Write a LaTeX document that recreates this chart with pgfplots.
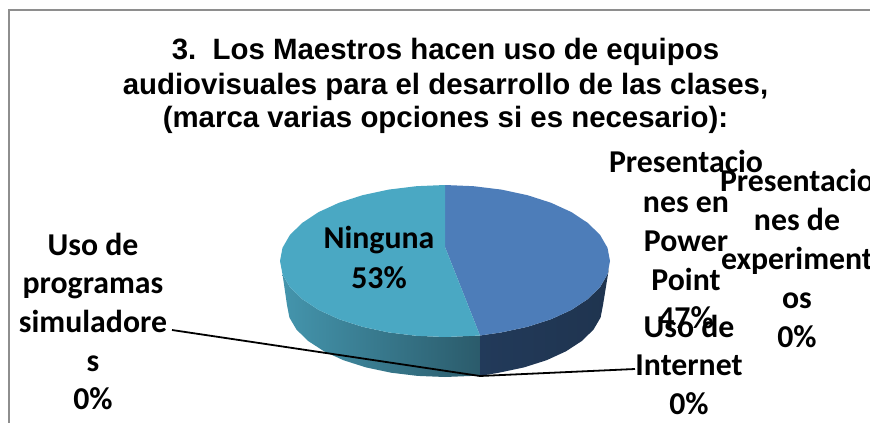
\documentclass[border=0pt]{standalone}
\usepackage{pgfplots}
\pgfplotsset{compat=1.18}
\usepackage{fontspec}
\setmainfont{Liberation Sans}
\newfontfamily\calb{Carlito}
\definecolor{ptop}{HTML}{4D7DB9}
\definecolor{ttop}{HTML}{4AA8C3}
\definecolor{edge}{HTML}{8E8E8E}
\definecolor{tl}{HTML}{4495AD}
\definecolor{tr}{HTML}{2B5B6B}
\definecolor{bl}{HTML}{223A5A}
\definecolor{bm}{HTML}{1E324C}
\definecolor{br}{HTML}{1F344F}
\newcommand{\lab}[3]{\node[font={\calb\bfseries\fontsize{31.8}{38}\selectfont},inner sep=0pt,anchor=base] at (axis cs:#1,#2) {#3};}
\newcommand{\ttl}[2]{\node[font={\bfseries\fontsize{29.4}{35}\selectfont},inner sep=0pt,anchor=base] at (axis cs:445.5,#1) {#2};}
\begin{document}
\begin{tikzpicture}
\useasboundingbox (0,0) rectangle (870pt,423pt);
\clip (0,0) rectangle (870pt,423pt);
\begin{axis}[at={(0,0)},anchor=south west,scale only axis,width=870pt,height=423pt,
  hide axis,xmin=0,xmax=870,ymin=0,ymax=423,y dir=reverse,clip=false]
% frame
\addplot[edge,line width=2pt,forget plot] coordinates {(870,10) (9,10) (9,423)};
% side walls
\addplot[draw=none,left color=tl,right color=tr,forget plot] coordinates {
 (282.5,274.2) (289.9,287) (302.1,299) (318.6,309.9) (338.9,319.2) (362.5,326.8) (388.6,332.4) (416.4,335.8) (445,337) (473.6,335.8) (480,335.5)
 (480,376) (472.4,375.9) (445,377) (417.6,375.9) (391,372.7) (366,367.4) (343.4,360.2) (324,351.3) (308.2,341) (296.5,329.6) (289.4,317.5) (287,305)} -- cycle;
\addplot[draw=none,left color=bl,middle color=bm,right color=br,forget plot] coordinates {
 (480,335.5) (501.4,332.4) (527.5,326.8) (551.1,319.2) (571.4,309.9) (587.9,299) (600.1,287) (607.5,274.2) (609,268)
 (603,305) (600.6,317.5) (593.5,329.6) (581.8,341) (566,351.3) (546.6,360.2) (524,367.4) (499,372.7) (480,376)} -- cycle;
% top faces: Power Point 47%, Ninguna 53%
\addplot[draw=none,fill=ptop,forget plot] coordinates {
 (445,247) (445,185) (473.6,186.2) (501.4,189.6) (527.5,195.2) (551.1,202.8) (571.4,212.1) (587.9,223) (600.1,235) (607.5,247.8) (610,261)
 (607.5,274.2) (600.1,287) (587.9,299) (571.4,309.9) (551.1,319.2) (527.5,326.8) (501.4,332.4) (480,335.5)} -- cycle;
\addplot[draw=none,fill=ttop,forget plot] coordinates {
 (445,247) (480,335.5) (473.6,335.8) (445,337) (416.4,335.8) (388.6,332.4) (362.5,326.8) (338.9,319.2) (318.6,309.9) (302.1,299) (289.9,287) (282.5,274.2) (280,261)
 (282.5,247.8) (289.9,235) (302.1,223) (318.6,212.1) (338.9,202.8) (362.5,195.2) (388.6,189.6) (416.4,186.2) (445,185)} -- cycle;
% leader lines
\addplot[black,line width=1.8pt,forget plot] coordinates {(172,330) (480,376)};
\addplot[black,line width=1.8pt,forget plot] coordinates {(480,376) (635,369)};
% title
\ttl{59}{3.\ \ Los Maestros hacen uso de equipos}
\ttl{94}{audiovisuales para el desarrollo de las clases,}
\ttl{127}{(marca varias opciones si es necesario):}
% labels
\lab{379}{248}{Ninguna}
\lab{379}{288}{53\%}
\lab{686}{172}{Presentacio}
\lab{686}{212}{nes en}
\lab{686}{251}{Power}
\lab{686}{290}{Point}
\lab{686}{328}{47\%}
\lab{797}{191}{Presentacio}
\lab{797}{230}{nes de}
\lab{797}{269}{experiment}
\lab{797}{308}{os}
\lab{797}{347}{0\%}
\lab{689}{337}{Uso de}
\lab{689}{375}{Internet}
\lab{689}{414}{0\%}
\lab{93}{255}{Uso de}
\lab{93}{293}{programas}
\lab{93}{332}{simuladore}
\lab{93}{371}{s}
\lab{93}{409}{0\%}
\end{axis}
\end{tikzpicture}
\end{document}
